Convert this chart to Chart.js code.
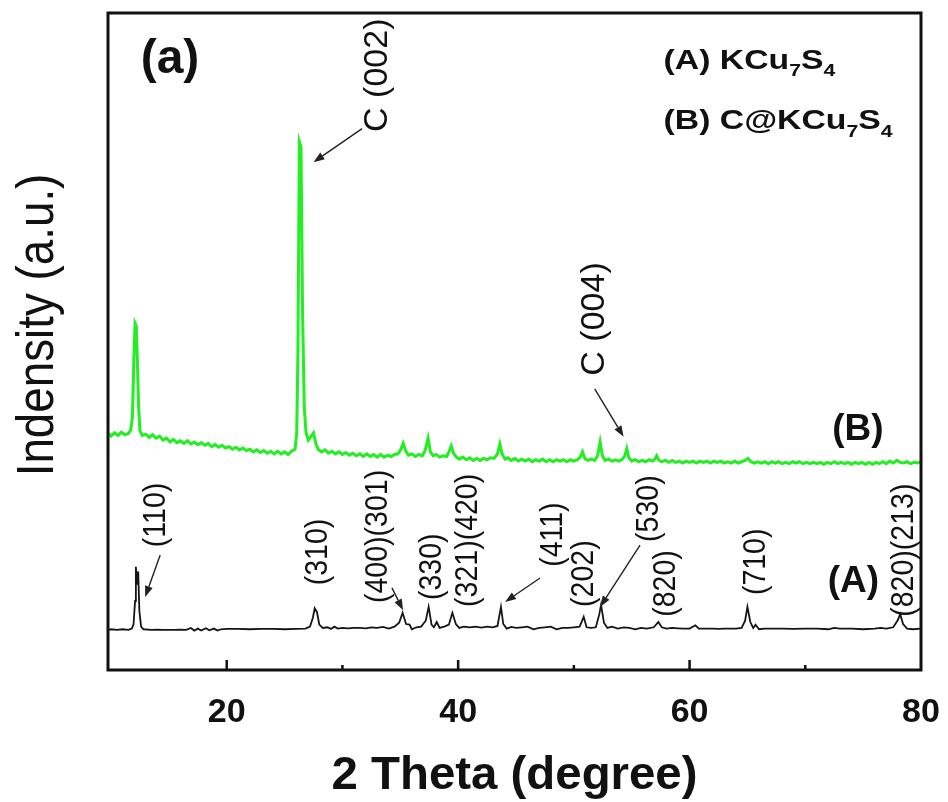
<!DOCTYPE html>
<html>
<head>
<meta charset="utf-8">
<style>
html,body{margin:0;padding:0;background:#fff}
#wrap{width:948px;height:802px}
</style>
<script src="https://cdn.jsdelivr.net/npm/chart.js@4.4.0/dist/chart.umd.min.js"></script>
</head>
<body>
<div id="wrap"><canvas id="c" width="948" height="802"></canvas></div>
<script>
// ---------- data (2 theta in degrees, intensity in arbitrary units) ----------
const thetaA = [
  9.75,10.0,10.5,11.0,11.5,11.8,11.95,12.08,12.15,12.25,
  12.35,12.45,12.6,12.8,13.5,14.0,14.5,15.0,15.5,16.0,
  16.5,16.9,17.2,17.5,17.8,18.2,18.5,18.9,19.2,19.5,
  20.0,21.0,22.0,23.0,24.0,25.0,26.0,26.8,27.2,27.45,
  27.6,27.8,28.0,28.3,28.7,29.0,29.3,29.6,30.0,30.5,
  31.0,31.5,32.0,32.5,33.0,33.5,34.0,34.5,34.9,35.2,
  35.5,35.8,36.0,36.4,36.8,37.2,37.45,37.7,37.9,38.15,
  38.4,38.8,39.2,39.5,39.8,40.1,40.5,41.0,41.5,42.0,
  42.5,43.0,43.4,43.7,43.9,44.2,44.6,45.0,45.5,46.0,
  46.5,47.0,47.5,48.0,48.5,49.0,49.5,50.0,50.5,50.85,
  51.1,51.5,51.9,52.2,52.35,52.6,52.9,53.3,53.8,54.3,
  54.8,55.3,55.8,56.3,56.9,57.3,57.6,58.0,58.5,59.0,
  59.5,60.0,60.5,60.8,61.5,62.0,62.5,63.0,63.5,64.0,
  64.5,64.8,65.0,65.25,65.5,65.7,66.0,66.5,67.0,68.0,
  69.0,70.0,71.0,72.0,72.5,73.0,74.0,75.0,76.0,76.5,
  77.0,77.6,78.0,78.2,78.45,78.8,79.3,80.0
];
const intensityA = [
  6.1,6.2,6.1,6.2,6.1,6.3,7.0,10.5,15.7,13.0,
  15.0,9.0,6.6,6.2,6.1,6.15,6.1,6.1,6.1,6.15,
  6.1,6.4,6.0,6.3,6.0,6.35,6.05,6.3,6.0,6.2,
  6.25,6.25,6.2,6.25,6.25,6.2,6.25,6.3,6.6,8.0,
  9.4,8.8,6.9,6.4,6.5,6.25,6.6,6.3,6.4,6.35,
  6.4,6.4,6.35,6.5,6.4,6.55,6.3,6.6,7.2,8.7,
  7.0,6.9,6.2,6.5,6.6,7.5,9.6,6.9,6.5,7.3,
  6.4,6.6,6.9,8.7,7.0,6.4,6.6,6.5,6.6,6.45,
  6.6,6.5,6.7,9.6,7.0,6.3,6.55,6.4,6.5,6.6,
  6.2,6.4,6.5,6.6,6.2,6.4,6.4,6.5,6.6,8.1,
  6.5,6.4,6.5,8.5,9.9,7.2,6.4,6.6,6.3,6.5,
  6.4,6.2,6.4,6.3,6.5,7.3,6.5,6.3,6.4,6.35,
  6.3,6.3,6.8,6.3,6.3,6.3,6.25,6.3,6.3,6.3,
  6.4,7.5,9.6,7.3,6.4,6.9,6.2,6.3,6.3,6.3,
  6.25,6.3,6.3,6.2,6.4,6.3,6.3,6.2,6.3,6.4,
  6.3,6.5,7.6,8.5,7.0,6.3,6.2,6.3
];
const thetaB = [
  9.8,10.0,10.3,10.6,10.9,11.2,11.5,11.7,11.85,11.98,
  12.08,12.18,12.28,12.38,12.5,12.7,13.0,13.3,13.6,13.9,
  14.2,14.5,14.8,15.1,15.4,15.7,16.0,16.3,16.6,16.9,
  17.2,17.5,17.8,18.1,18.4,18.7,19.0,19.3,19.6,19.9,
  20.2,20.5,20.8,21.1,21.4,21.7,22.0,22.3,22.6,22.9,
  23.2,23.5,23.8,24.1,24.4,24.7,25.0,25.3,25.6,25.9,
  26.05,26.15,26.28,26.42,26.55,26.7,26.85,27.05,27.3,27.5,
  27.7,27.9,28.2,28.5,28.8,29.1,29.4,29.7,30.0,30.3,
  30.6,30.9,31.2,31.5,31.8,32.1,32.4,32.7,33.0,33.3,
  33.6,33.9,34.2,34.5,34.8,35.05,35.25,35.45,35.7,36.0,
  36.3,36.6,36.9,37.15,37.4,37.6,37.85,38.1,38.4,38.7,
  39.0,39.2,39.4,39.6,39.85,40.1,40.4,40.7,41.0,41.3,
  41.6,41.9,42.2,42.5,42.8,43.1,43.4,43.6,43.8,44.05,
  44.3,44.6,44.9,45.2,45.5,45.8,46.1,46.4,46.7,47.0,
  47.3,47.6,47.9,48.2,48.5,48.8,49.1,49.4,49.7,50.0,
  50.3,50.55,50.75,50.95,51.2,51.5,51.8,52.05,52.27,52.45,
  52.7,53.0,53.3,53.6,53.9,54.2,54.4,54.57,54.75,55.0,
  55.3,55.6,55.9,56.2,56.5,56.8,57.0,57.16,57.35,57.6,
  57.9,58.2,58.5,58.8,59.1,59.4,59.7,60.0,60.3,60.6,
  60.9,61.2,61.5,61.8,62.1,62.4,62.7,63.0,63.3,63.6,
  63.9,64.2,64.5,64.8,65.05,65.3,65.6,65.9,66.2,66.5,
  66.8,67.1,67.4,67.7,68.0,68.3,68.6,68.9,69.2,69.5,
  69.8,70.1,70.4,70.7,71.0,71.3,71.6,71.9,72.2,72.5,
  72.8,73.1,73.4,73.7,74.0,74.3,74.6,74.9,75.2,75.5,
  75.8,76.1,76.4,76.7,77.0,77.3,77.6,77.9,78.2,78.5,
  78.8,79.1,79.4,79.7,80.0
];
const intensityB = [
  36.0,35.6,36.1,35.7,36.2,35.8,36.0,36.5,38.5,47.6,
  52.8,52.4,47.0,40.3,36.4,35.7,35.9,35.4,35.8,35.3,
  35.6,35.0,35.3,34.7,35.1,34.6,34.9,34.5,34.9,34.4,
  34.7,34.3,34.6,34.2,34.5,34.0,34.3,33.9,34.2,33.8,
  34.0,33.6,33.9,33.5,33.8,33.4,33.6,33.2,33.5,33.1,
  33.4,33.0,33.3,32.9,33.3,32.9,33.2,32.8,33.3,33.6,
  36.0,48.0,80.4,79.6,55.0,40.0,36.2,35.0,35.6,36.1,
  34.5,33.6,33.2,33.5,33.0,33.3,32.9,33.2,32.8,33.1,
  32.7,33.0,32.6,32.9,32.5,32.9,32.5,32.8,32.4,32.8,
  32.4,32.7,32.5,32.8,32.9,33.6,34.5,33.4,32.7,32.9,
  32.5,32.8,32.6,33.4,35.3,33.2,32.6,32.8,32.4,32.6,
  32.5,33.2,34.1,33.0,32.4,32.1,32.4,32.0,32.3,31.9,
  32.2,31.9,32.2,32.0,32.3,32.2,32.9,34.4,32.9,32.1,
  32.3,31.9,32.2,31.8,32.1,31.8,32.1,31.7,32.0,31.8,
  32.1,31.7,32.0,31.7,32.0,31.8,32.0,31.7,32.0,31.8,
  32.0,32.4,33.2,32.2,31.9,32.1,31.9,32.6,34.7,32.7,
  31.9,32.1,31.8,32.0,31.8,32.1,32.6,33.7,32.3,31.8,
  32.0,31.7,31.9,31.7,32.0,31.8,32.1,32.6,31.9,31.7,
  31.9,31.6,31.9,31.6,31.8,31.5,31.8,31.6,31.8,31.5,
  31.8,31.6,31.8,31.5,31.8,31.6,31.8,31.5,31.7,31.5,
  31.8,31.5,31.7,31.9,32.2,31.7,31.5,31.7,31.5,31.7,
  31.4,31.7,31.5,31.7,31.4,31.6,31.4,31.7,31.5,31.7,
  31.4,31.6,31.4,31.6,31.4,31.6,31.3,31.6,31.4,31.7,
  31.4,31.6,31.4,31.6,31.3,31.6,31.4,31.6,31.3,31.6,
  31.3,31.6,31.4,31.7,31.4,31.8,31.5,31.9,31.6,31.5,
  31.7,31.4,31.6,31.5,31.7
];
const labeledTicks = [20, 40, 60, 80];
const peakLabels = ['(110)','(310)','(400)(301)','(330)','(321)(420)','(411)','(202)','(530)','(820)','(710)','(820)(213)'];
const carbonLabels = ['C (002)','C (004)'];

// ---------- annotation layout (data coordinates) ----------
const FONT = '"Liberation Sans", Arial, Helvetica, sans-serif';
const peakLabelPos = [
  [13.9,18.7],[27.97,12.9],[33.07,10.2],[37.8,10.65],[40.85,9.6],
  [48.2,15.7],[50.9,9.6],[56.5,19.5],[57.96,8.1],[65.75,11.4],[78.6,8.1]
];
const carbonLabelPos = [[33.0,81.9],[51.8,44.8]];
const arrows = [
  [14.25,17.5,12.95,11.1],
  [34.28,12.5,35.24,9.1],
  [47.08,14.0,44.05,10.35],
  [55.72,19.0,52.27,9.6],
  [31.7,82.4,27.5,77.3],
  [51.8,42.8,54.3,35.5]
];

function pts(xs, ys){ return xs.map((x,i)=>({x:x, y:ys[i]})); }

function drawArrow(ctx, x1, y1, x2, y2){
  const ang = Math.atan2(y2-y1, x2-x1);
  const hl = 11, hw = 4;
  const bx = x2 - hl*Math.cos(ang), by = y2 - hl*Math.sin(ang);
  ctx.beginPath(); ctx.moveTo(x1,y1); ctx.lineTo(bx,by); ctx.stroke();
  ctx.beginPath();
  ctx.moveTo(x2,y2);
  ctx.lineTo(bx + hw*Math.sin(ang), by - hw*Math.cos(ang));
  ctx.lineTo(bx - hw*Math.sin(ang), by + hw*Math.cos(ang));
  ctx.closePath(); ctx.fill();
}

function drawRich(ctx, pieces, px, py, size, sx){
  ctx.save();
  ctx.translate(px, py);
  ctx.scale(sx, 1);
  ctx.textAlign = 'left'; ctx.textBaseline = 'alphabetic';
  let cx = 0;
  pieces.forEach(p => {
    if (p.sub){
      ctx.font = 'bold ' + Math.round(size*0.62) + 'px ' + FONT;
      ctx.fillText(p.t, cx, size*0.28);
    } else {
      ctx.font = 'bold ' + size + 'px ' + FONT;
      ctx.fillText(p.t, cx, 0);
    }
    cx += ctx.measureText(p.t).width;
  });
  ctx.restore();
}

const overlay = {
  id: 'overlay',
  afterDraw(chart){
    const ctx = chart.ctx, a = chart.chartArea, X = chart.scales.x, Y = chart.scales.y;
    const px = v => X.getPixelForValue(v), py = v => Y.getPixelForValue(v);
    ctx.save();
    ctx.fillStyle = '#111'; ctx.strokeStyle = '#111';
    // frame
    ctx.lineWidth = 3;
    ctx.strokeRect(a.left, a.top, a.right - a.left, a.bottom - a.top);
    // inward ticks
    ctx.lineWidth = 2.5;
    X.ticks.forEach(t => {
      const p = px(t.value);
      if (p < a.left + 5 || p > a.right - 3) return;
      const major = labeledTicks.includes(t.value);
      ctx.beginPath(); ctx.moveTo(p, a.bottom); ctx.lineTo(p, a.bottom - (major ? 10 : 5)); ctx.stroke();
    });
    // arrows
    ctx.lineWidth = 1.4; ctx.strokeStyle = '#222'; ctx.fillStyle = '#222';
    arrows.forEach(r => drawArrow(ctx, px(r[0]), py(r[1]), px(r[2]), py(r[3])));
    ctx.fillStyle = '#111';
    // rotated miller index labels
    peakLabels.forEach((t, i) => {
      const p = peakLabelPos[i];
      ctx.save();
      ctx.translate(px(p[0]), py(p[1]));
      ctx.rotate(-Math.PI/2);
      ctx.scale(0.92, 1);
      ctx.font = '31px ' + FONT;
      ctx.textAlign = 'left'; ctx.textBaseline = 'middle';
      ctx.fillText(t, 0, 0);
      ctx.restore();
    });
    carbonLabels.forEach((t, i) => {
      const p = carbonLabelPos[i];
      ctx.save();
      ctx.translate(px(p[0]), py(p[1]));
      ctx.rotate(-Math.PI/2);
      ctx.font = '34px ' + FONT;
      ctx.textAlign = 'left'; ctx.textBaseline = 'middle';
      ctx.fillText(t, 0, 0);
      ctx.restore();
    });
    // panel tag and curve tags
    ctx.textAlign = 'center'; ctx.textBaseline = 'alphabetic';
    ctx.font = 'bold 48px ' + FONT;
    ctx.fillText('(a)', px(15.1), py(90.9));
    ctx.font = 'bold 37px ' + FONT;
    ctx.fillText('(A)', px(74.15), py(11.9));
    ctx.fillText('(B)', px(74.55), py(35.0));
    // legend text
    drawRich(ctx, [{t:'(A) KCu'},{t:'7',sub:true},{t:'S'},{t:'4',sub:true}], px(57.75), py(91.5), 27, 1.25);
    drawRich(ctx, [{t:'(B) C@KCu'},{t:'7',sub:true},{t:'S'},{t:'4',sub:true}], px(57.75), py(82.3), 27, 1.25);
    // axis titles
    ctx.save();
    ctx.translate(53, 325);
    ctx.rotate(-Math.PI/2);
    ctx.scale(0.88, 1);
    ctx.font = '52px ' + FONT;
    ctx.textAlign = 'center'; ctx.textBaseline = 'alphabetic';
    ctx.fillText('Indensity (a.u.)', 0, 0);
    ctx.restore();
    ctx.save();
    ctx.translate((a.left + a.right)/2, 789);
    ctx.scale(1.03, 1);
    ctx.font = 'bold 46px ' + FONT;
    ctx.textAlign = 'center'; ctx.textBaseline = 'alphabetic';
    ctx.fillText('2 Theta (degree)', 0, 0);
    ctx.restore();
    ctx.restore();
  }
};

new Chart(document.getElementById('c'), {
  type: 'line',
  data: {
    datasets: [
      { label: '(A) KCu7S4', data: pts(thetaA, intensityA), borderColor: '#151515', borderWidth: 1.8, pointRadius: 0, tension: 0 },
      { label: '(B) C@KCu7S4', data: pts(thetaB, intensityB), borderColor: '#22ee22', borderWidth: 3, pointRadius: 0, tension: 0 }
    ]
  },
  options: {
    responsive: false,
    animation: false,
    devicePixelRatio: 1,
    layout: { padding: { left: 0, right: 27, top: 13, bottom: 0 } },
    plugins: { legend: { display: false }, tooltip: { enabled: false } },
    scales: {
      x: {
        type: 'linear', min: 9.74, max: 80,
        grid: { display: false, drawTicks: false },
        border: { display: false },
        ticks: {
          stepSize: 10, includeBounds: false, autoSkip: false, maxRotation: 0, padding: 22,
          color: '#111', font: { family: FONT, size: 34, weight: 'bold' },
          callback: v => labeledTicks.includes(v) ? String(v) : ''
        },
        afterFit: s => { s.height = 132; s.paddingLeft = 0; s.paddingRight = 0; }
      },
      y: {
        type: 'linear', min: 0, max: 100,
        grid: { display: false, drawTicks: false },
        border: { display: false },
        ticks: { display: false },
        afterFit: s => { s.width = 108; s.paddingTop = 0; s.paddingBottom = 0; }
      }
    }
  },
  plugins: [overlay]
});
</script>
</body>
</html>
